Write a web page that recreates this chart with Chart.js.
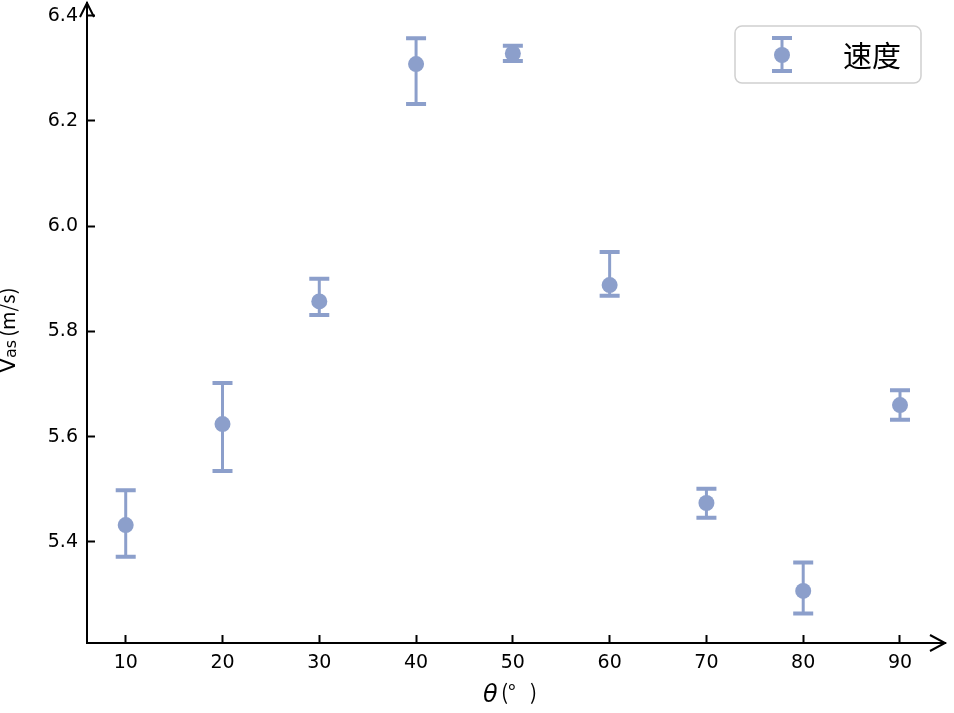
<!DOCTYPE html>
<html>
<head>
<meta charset="utf-8">
<script src="https://cdn.jsdelivr.net/npm/chart.js@4/dist/chart.umd.min.js"></script>
<style>
html,body{margin:0;padding:0;background:#fff;}
#wrap{width:954px;height:713px;position:relative;}
</style>
</head>
<body>
<div id="wrap"><canvas id="c" width="954" height="713"></canvas></div>
<script>
const angles = [10, 20, 30, 40, 50, 60, 70, 80, 90];
const speeds = [5.432, 5.624, 5.857, 6.308, 6.328, 5.888, 5.474, 5.307, 5.660];
const errLow  = [5.372, 5.535, 5.831, 6.232, 6.314, 5.868, 5.446, 5.264, 5.632];
const errHigh = [5.498, 5.702, 5.900, 6.357, 6.343, 5.951, 5.501, 5.361, 5.688];
const yTicks = [5.4, 5.6, 5.8, 6.0, 6.2, 6.4];
const xTicks = [10, 20, 30, 40, 50, 60, 70, 80, 90];
const seriesLabel = '速度';
const color = '#8c9fcb';
const tickFont = {family: "'DejaVu Sans', sans-serif", size: 19};

const errorBarPlugin = {
  id: 'errorBars',
  beforeDatasetsDraw(chart) {
    const ctx = chart.ctx, xs = chart.scales.x, ys = chart.scales.y;
    ctx.save();
    ctx.strokeStyle = color;
    angles.forEach((a, i) => {
      const px = xs.getPixelForValue(a);
      const y1 = ys.getPixelForValue(errLow[i]);
      const y2 = ys.getPixelForValue(errHigh[i]);
      ctx.lineWidth = 3;
      ctx.beginPath();
      ctx.moveTo(px, y1); ctx.lineTo(px, y2);
      ctx.stroke();
      ctx.lineWidth = 4;
      ctx.beginPath();
      ctx.moveTo(px - 10, y1); ctx.lineTo(px + 10, y1);
      ctx.moveTo(px - 10, y2); ctx.lineTo(px + 10, y2);
      ctx.stroke();
    });
    ctx.restore();
  },
  afterDraw(chart) {
    const ctx = chart.ctx, ca = chart.chartArea;
    ctx.save();
    // arrows
    ctx.strokeStyle = '#000';
    ctx.lineWidth = 2;
    ctx.beginPath();
    ctx.moveTo(ca.left - 7, ca.top + 14);
    ctx.lineTo(ca.left, ca.top);
    ctx.lineTo(ca.left + 7, ca.top + 14);
    ctx.stroke();
    ctx.beginPath();
    ctx.moveTo(ca.right - 15, ca.bottom - 8);
    ctx.lineTo(ca.right, ca.bottom);
    ctx.lineTo(ca.right - 15, ca.bottom + 8);
    ctx.stroke();

    // y title
    ctx.fillStyle = '#000';
    ctx.save();
    ctx.translate(15, 373);
    ctx.rotate(-Math.PI / 2);
    ctx.textBaseline = 'alphabetic';
    ctx.textAlign = 'left';
    ctx.font = "22px 'DejaVu Sans', sans-serif";
    ctx.fillText('V', 0, 0);
    let w = ctx.measureText('V').width;
    ctx.font = "16px 'DejaVu Sans', sans-serif";
    ctx.fillText('as', w, 1);
    w += ctx.measureText('as').width + 3;
    ctx.font = "20px 'Noto Sans CJK SC', sans-serif";
    ctx.fillText('(m/s)', w, 0);
    ctx.restore();

    // x title
    ctx.textBaseline = 'alphabetic';
    ctx.textAlign = 'left';
    ctx.font = "italic 24px 'DejaVu Sans', sans-serif";
    ctx.fillText('θ', 483, 702);
    ctx.font = "21px 'Noto Sans CJK SC', sans-serif";
    ctx.fillText('(°   )', 501, 700);

    // legend
    const bx = 735, by = 26, bw = 186, bh = 57, r = 7;
    ctx.beginPath();
    ctx.roundRect(bx, by, bw, bh, r);
    ctx.fillStyle = 'rgba(255,255,255,0.8)';
    ctx.fill();
    ctx.strokeStyle = '#d0d0d0';
    ctx.lineWidth = 1.5;
    ctx.stroke();
    const mx = 782, my = 55;
    ctx.strokeStyle = color;
    ctx.lineWidth = 3;
    ctx.beginPath(); ctx.moveTo(mx, 38); ctx.lineTo(mx, 71); ctx.stroke();
    ctx.lineWidth = 4;
    ctx.beginPath();
    ctx.moveTo(mx - 10, 38); ctx.lineTo(mx + 10, 38);
    ctx.moveTo(mx - 10, 71); ctx.lineTo(mx + 10, 71);
    ctx.stroke();
    ctx.fillStyle = color;
    ctx.beginPath(); ctx.arc(mx, my, 8, 0, Math.PI * 2); ctx.fill();
    ctx.fillStyle = '#000';
    ctx.font = "29px 'Noto Sans CJK SC', sans-serif";
    ctx.textBaseline = 'middle';
    ctx.fillText(seriesLabel, 843, 56);
    ctx.restore();
  }
};

new Chart(document.getElementById('c'), {
  type: 'scatter',
  data: {
    datasets: [{
      label: seriesLabel,
      data: angles.map((a, i) => ({x: a, y: speeds[i]})),
      backgroundColor: color,
      borderColor: color,
      pointRadius: 8,
      pointHoverRadius: 8,
      borderWidth: 0
    }]
  },
  options: {
    responsive: false,
    animation: false,
    events: [],
    layout: {autoPadding: false, padding: {top: 3, right: 9, left: 0, bottom: 0}},
    plugins: {legend: {display: false}, tooltip: {enabled: false}},
    scales: {
      x: {
        type: 'linear',
        min: 6, max: 94.65,
        afterBuildTicks(s) { s.ticks = xTicks.map(v => ({value: v})); },
        afterFit(s) { s.height = 70; s.paddingLeft = 0; s.paddingRight = 0; },
        grid: {drawOnChartArea: false, drawTicks: true, tickLength: -8, tickWidth: 2, tickColor: '#000'},
        border: {display: true, color: '#000', width: 2},
        ticks: {color: '#000', font: tickFont, padding: 17, maxRotation: 0, autoSkip: false}
      },
      y: {
        type: 'linear',
        min: 5.208, max: 6.424,
        afterBuildTicks(s) { s.ticks = yTicks.map(v => ({value: v})); },
        afterFit(s) { s.width = 87; s.paddingTop = 0; s.paddingBottom = 0; },
        grid: {drawOnChartArea: false, drawTicks: true, tickLength: -8, tickWidth: 2, tickColor: '#000'},
        border: {display: true, color: '#000', width: 2},
        ticks: {color: '#000', font: tickFont, padding: 17, autoSkip: false,
                callback: v => v.toFixed(1)}
      }
    }
  },
  plugins: [errorBarPlugin]
});
</script>
</body>
</html>
